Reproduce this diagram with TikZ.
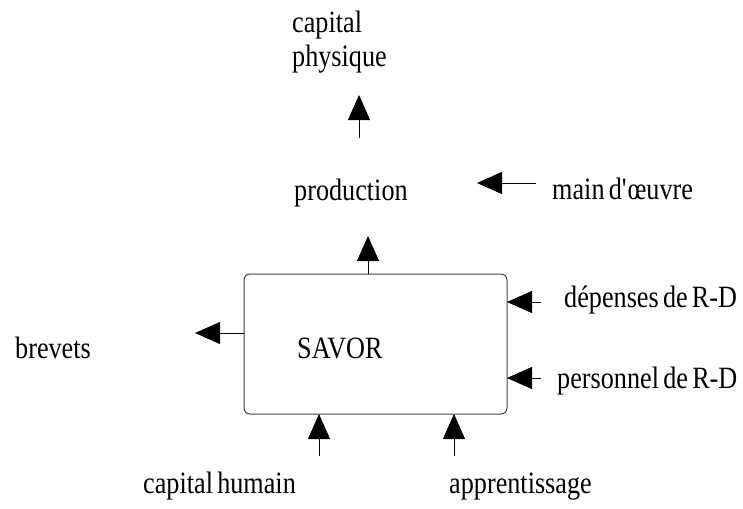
\documentclass[tikz,border=0pt]{standalone}
\usepackage{fontspec}
\setmainfont[FakeStretch=0.845,WordSpace=0.65]{Liberation Serif}
\usetikzlibrary{arrows.meta}
\begin{document}
\begin{tikzpicture}[x=1pt,y=-1pt,
  lbl/.style={anchor=base west,inner sep=0pt,font=\fontsize{31}{34}\selectfont},
  flow/.style={line width=0.8pt,-{Triangle[length=25pt,width=22pt]}},
  block/.style={draw=black!75,line width=1pt,rounded corners=6pt,inner sep=0pt,
    minimum width=263pt,minimum height=140pt}]
\useasboundingbox (0,0) rectangle (743,508);

% central block
\node[block] (savor) at (375.5,344) {};
\node[lbl] (savortxt) at (297,358) {SAVOR};

% labels
\node[lbl] (cap) at (292,33) {capital};
\node[lbl] (phys) at (292,67) {physique};
\node[lbl] (prod) at (294,200) {production};
\node[lbl] (main) at (552,199) {main d\textquotesingle œuvre};
\node[lbl] (dep) at (564,307) {dépenses de R-D};
\node[lbl] (pers) at (557,388) {personnel de R-D};
\node[lbl] (brev) at (15,358) {brevets};
\node[lbl] (caph) at (143,493) {capital humain};
\node[lbl] (appr) at (449,493) {apprentissage};

% arrow ends
\coordinate (cp-a) at (359,138);  \coordinate (cp-b) at (359,95);
\coordinate (pr-a) at (368,274);  \coordinate (pr-b) at (368,236);
\coordinate (md-a) at (536,183);  \coordinate (md-b) at (477,183);
\coordinate (br-a) at (244,333);  \coordinate (br-b) at (195,333);
\coordinate (dp-a) at (541,302);  \coordinate (dp-b) at (507,302);
\coordinate (pe-a) at (541,378);  \coordinate (pe-b) at (507,378);
\coordinate (ch-a) at (319,456);  \coordinate (ch-b) at (319,414);
\coordinate (ap-a) at (454,456);  \coordinate (ap-b) at (454,414);

% connectors
\draw[flow] (cp-a) -- (cp-b);
\draw[flow] (pr-a) -- (pr-b);
\draw[flow] (md-a) -- (md-b);
\draw[flow] (br-a) -- (br-b);
\draw[flow] (dp-a) -- (dp-b);
\draw[flow] (pe-a) -- (pe-b);
\draw[flow] (ch-a) -- (ch-b);
\draw[flow] (ap-a) -- (ap-b);
\end{tikzpicture}
\end{document}
